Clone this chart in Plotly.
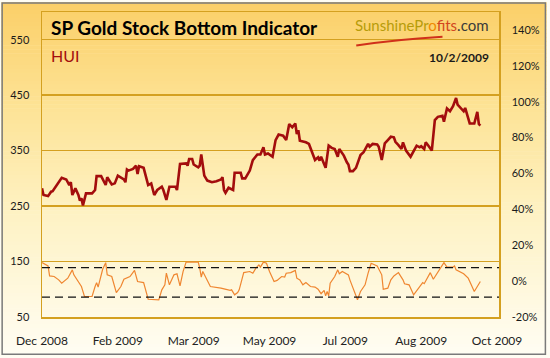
import pandas as pd
import plotly.graph_objects as go

# ---------------- data ----------------
start_date = "2008-12-17"

hui_day = [0, 1, 4, 6, 7, 10, 13, 16, 18, 19, 20, 22, 24, 25, 26, 27, 29, 33, 35, 36,
           39, 42, 43, 46, 48, 50, 54, 55, 56, 57, 60, 62, 63, 64, 67, 70, 72, 74, 76, 79,
           80, 82, 84, 88, 89, 91, 95, 96, 97, 99, 100, 103, 104, 105, 107, 109, 112, 115, 118, 119,
           120, 121, 123, 126, 127, 131, 132, 134, 137, 139, 142, 144, 146, 147, 149, 152, 154, 156, 159, 161,
           163, 165, 167, 168, 169, 170, 174, 176, 178, 180, 182, 183, 184, 187, 189, 191, 193, 195, 196, 199,
           201, 202, 203, 205, 207, 210, 212, 215, 216, 218, 221, 222, 224, 226, 228, 230, 232, 233, 235, 237,
           238, 240, 243, 245, 247, 249, 250, 252, 253, 255, 257, 259, 261, 264, 265, 267, 269, 271, 273, 274,
           277, 278, 279, 281, 282, 285, 286, 287, 288, 289]
hui_value = [282, 270, 268, 276, 277, 288, 301, 298, 288, 293, 270, 282, 270, 260, 264, 251, 273, 273, 279, 304,
             304, 288, 302, 289, 291, 305, 298, 293, 316, 314, 317, 323, 308, 322, 319, 288, 291, 270, 279, 285,
             279, 261, 285, 285, 279, 326, 327, 323, 335, 335, 325, 320, 323, 343, 305, 296, 293, 295, 298, 302,
             279, 274, 283, 279, 310, 310, 300, 300, 314, 333, 343, 343, 356, 343, 345, 339, 369, 379, 377, 369,
             398, 392, 399, 380, 387, 368, 365, 362, 347, 333, 338, 332, 339, 319, 359, 355, 353, 339, 353, 341,
             329, 325, 313, 313, 319, 342, 347, 362, 357, 362, 361, 357, 333, 363, 369, 375, 374, 366, 360, 353,
             365, 350, 339, 350, 359, 356, 358, 353, 365, 358, 350, 405, 411, 413, 402, 426, 421, 430, 445, 433,
             425, 421, 427, 410, 399, 399, 410, 420, 398, 395]

ind_day = [0, 4, 5, 8, 11, 13, 17, 20, 21, 24, 26, 28, 33, 35, 36, 37, 39, 40, 42, 43,
           46, 49, 52, 54, 58, 61, 63, 67, 70, 74, 77, 79, 81, 82, 84, 87, 89, 91, 93, 95,
           103, 104, 105, 106, 111, 118, 122, 124, 125, 127, 129, 130, 133, 137, 139, 141, 143, 144, 146, 148,
           150, 153, 155, 158, 160, 161, 164, 167, 168, 170, 172, 174, 177, 180, 182, 184, 186, 187, 188, 189,
           190, 193, 195, 196, 198, 202, 203, 205, 207, 208, 210, 213, 215, 217, 221, 224, 225, 228, 230, 232,
           235, 238, 239, 242, 245, 248, 251, 252, 254, 256, 258, 261, 265, 267, 271, 272, 273, 278, 281, 283,
           285, 287, 289]
ind_value = [148, 142, 124, 123, 117, 111, 120, 135, 126, 114, 105, 87, 87, 105, 112, 104, 126, 136, 148, 126,
             123, 94, 105, 118, 123, 134, 114, 112, 82, 82, 81, 99, 108, 129, 108, 126, 128, 106, 132, 149,
             149, 138, 122, 132, 105, 102, 99, 98, 99, 90, 94, 99, 130, 132, 129, 138, 144, 140, 149, 147,
             132, 114, 116, 123, 122, 129, 130, 134, 120, 117, 108, 112, 105, 104, 100, 92, 98, 88, 96, 88,
             111, 123, 135, 128, 132, 126, 117, 102, 87, 81, 96, 108, 129, 147, 142, 126, 100, 102, 117, 124,
             130, 117, 110, 108, 90, 102, 112, 110, 120, 130, 118, 130, 148, 140, 140, 142, 135, 128, 120, 108,
             96, 105, 114]

upper_band = 139
lower_band = 86

y_ticks = [50, 150, 250, 350, 450, 550]
pct_ticks = [-20, 0, 20, 40, 60, 80, 100, 120, 140]
pct_text = ["%d%%" % v for v in pct_ticks]
x_tick_day = [0, 50, 100, 150, 200, 250, 300]
x_tick_text = ["Dec 2008", "Feb 2009", "Mar 2009", "May 2009", "Jul 2009", "Aug 2009", "Oct 2009"]

title_text = "SP Gold Stock Bottom Indicator"
series_name = "HUI"
date_label = "10/2/2009"

# ---------------- geometry ----------------
W, H = 550, 358
ML, MR, MT, MB = 41, 48, 10, 39
PW, PH = W - ML - MR, H - MT - MB


def px_x(px):
    return (px - ML) / PW


def px_y(py):
    return (H - MB - py) / PH


t0 = pd.Timestamp(start_date)
hui_x = t0 + pd.to_timedelta(hui_day, unit="D")
ind_x = t0 + pd.to_timedelta(ind_day, unit="D")
tick_x = t0 + pd.to_timedelta(x_tick_day, unit="D")
x_range = [t0, t0 + pd.Timedelta(days=301.3)]

fig = go.Figure()

fig.add_trace(go.Scatter(x=hui_x, y=hui_value, mode="lines", name=series_name,
                         line=dict(color="#A30D0D", width=2.6), hoverinfo="skip"))
fig.add_trace(go.Scatter(x=ind_x, y=ind_value, mode="lines", name="Indicator",
                         line=dict(color="#EF8630", width=1.2), hoverinfo="skip"))
# right axis carrier (no visible marks)
fig.add_trace(go.Scatter(x=[hui_x[0]], y=[None], yaxis="y2", mode="lines",
                         showlegend=False, hoverinfo="skip"))

for lvl in (upper_band, lower_band):
    fig.add_hline(y=lvl, line=dict(color="#111111", width=1.3, dash="8px,5px"), layer="above")

# ---------------- gradient background ----------------
stops = [(0.0, (251, 207, 104)), (0.3, (253, 227, 150)), (0.6, (254, 242, 196)), (1.0, (255, 253, 243))]


def grad(t):
    for (a, ca), (b, cb) in zip(stops[:-1], stops[1:]):
        if a <= t <= b:
            f = (t - a) / (b - a)
            return tuple(round(ca[k] + (cb[k] - ca[k]) * f) for k in range(3))
    return stops[-1][1]


shapes = []
N = 90
for i in range(N):
    top = H * i / N
    bot = H * (i + 1) / N
    c = grad((i + 0.5) / N)
    shapes.append(dict(type="rect", xref="paper", yref="paper",
                       x0=px_x(0), x1=px_x(W), y0=px_y(bot + 0.5), y1=px_y(top),
                       fillcolor="rgb(%d,%d,%d)" % c, line=dict(width=0), layer="below"))

# outer border
shapes.append(dict(type="rect", xref="paper", yref="paper",
                   x0=px_x(0.8), x1=px_x(W - 1.2), y0=px_y(H - 1.2), y1=px_y(0.8),
                   line=dict(color="#7A7A7A", width=1.5), fillcolor="rgba(0,0,0,0)", layer="above"))
# logo swoosh
shapes.append(dict(type="path", xref="paper", yref="paper",
                   path="M %f,%f Q %f,%f %f,%f" % (px_x(358), px_y(44), px_x(395), px_y(38),
                                                    px_x(445), px_y(35)),
                   line=dict(color="#D0301A", width=2), layer="above"))

gold = "#D4A020"
font_main = "Lato, 'Open Sans', sans-serif"

fig.update_layout(
    width=W, height=H,
    margin=dict(l=ML, r=MR, t=MT, b=MB, pad=0),
    paper_bgcolor="rgb(255,253,243)",
    plot_bgcolor="rgba(0,0,0,0)",
    showlegend=False,
    hovermode=False,
    font=dict(family=font_main, color="#1a1a1a"),
    shapes=list(fig.layout.shapes) + shapes,
    xaxis=dict(type="date", range=x_range, tickvals=tick_x, ticktext=x_tick_text,
               showgrid=False, zeroline=False, showline=True, linecolor=gold, linewidth=1.5,
               mirror=True, ticks="outside", ticklen=12, tickcolor="rgba(0,0,0,0)",
               tickfont=dict(size=12, color="#222222")),
    yaxis=dict(range=[50, 600], tickvals=y_ticks, showgrid=True, gridcolor=gold, gridwidth=1.5,
               zeroline=False, showline=True, linecolor=gold, linewidth=1.5,
               ticks="outside", ticklen=9, tickcolor="rgba(0,0,0,0)",
               tickfont=dict(size=11, color="#1a1a1a")),
    yaxis2=dict(range=[-20, 150], tickvals=pct_ticks, ticktext=pct_text, overlaying="y", side="right",
                anchor="x", showgrid=False, zeroline=False, showline=True, linecolor=gold, linewidth=1.5,
                ticks="outside", ticklen=9, tickcolor="rgba(0,0,0,0)",
                tickfont=dict(size=11, color="#1a1a1a")),
    annotations=[
        dict(text="<b>%s</b>" % title_text, xref="paper", yref="paper", x=px_x(48), y=px_y(26),
             xanchor="left", yanchor="middle", showarrow=False,
             font=dict(size=19, color="#000000", family=font_main)),
        dict(text=series_name, xref="paper", yref="paper", x=px_x(48), y=px_y(54),
             xanchor="left", yanchor="middle", showarrow=False,
             font=dict(size=16, color="#A30D0D", family=font_main)),
        dict(text="<b>%s</b>" % date_label, xref="paper", yref="paper", x=px_x(494), y=px_y(56),
             xanchor="right", yanchor="middle", showarrow=False,
             font=dict(size=12, color="#1a1a1a", family=font_main)),
        dict(text="<span style='color:#B79C0A'>Sunshine</span><span style='color:#B79C0A'>Pr</span>"
                  "<span style='color:#F08A00'>o</span><span style='color:#D2461E'>fits</span>"
                  "<span style='color:#3A3A3A'>.com</span>",
             xref="paper", yref="paper", x=px_x(494), y=px_y(23),
             xanchor="right", yanchor="middle", showarrow=False,
             font=dict(size=15, family=font_main)),
    ],
)

fig.write_html("out.html", config={"displayModeBar": False, "staticPlot": True},
               post_script="document.body.style.margin='0px';document.body.style.overflow='hidden';")
